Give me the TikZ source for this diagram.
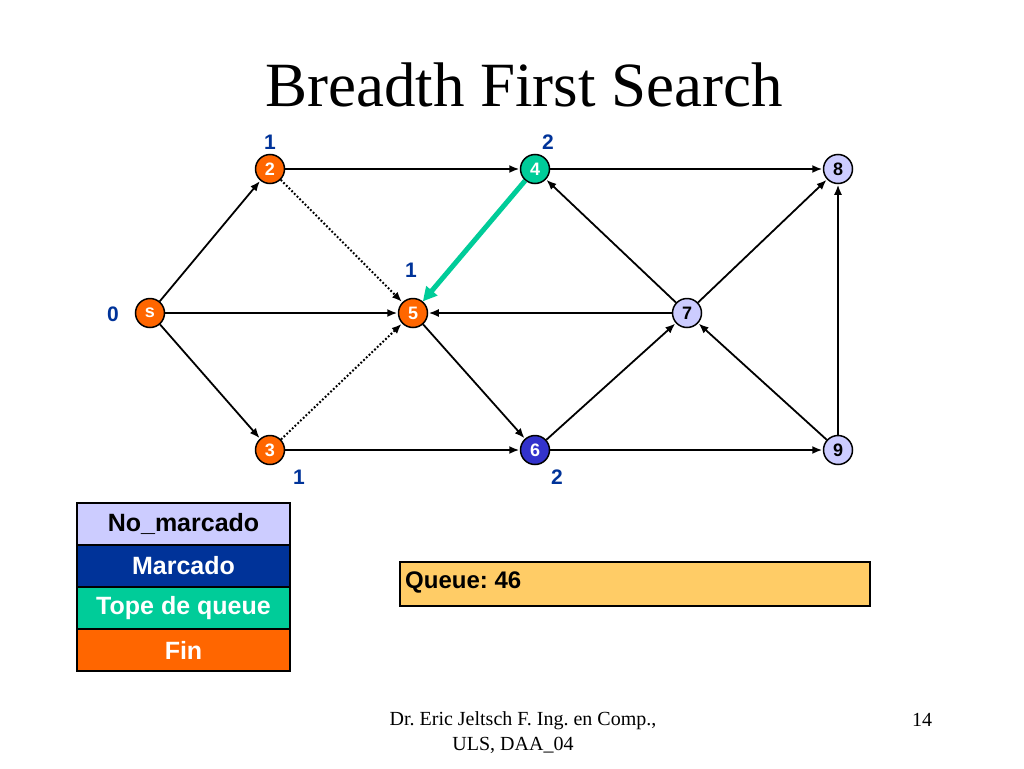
\documentclass[tikz,border=0pt]{standalone}
\usepackage{fontspec}
\setmainfont{Liberation Serif}
\setsansfont{Liberation Sans}
\usetikzlibrary{arrows.meta}
\definecolor{finor}{HTML}{FF6600}
\definecolor{topgr}{HTML}{00CC99}
\definecolor{markbl}{HTML}{3333CC}
\definecolor{legbl}{HTML}{003399}
\definecolor{nomark}{HTML}{CCCCFF}
\definecolor{queuebg}{HTML}{FFCC66}
\definecolor{lblbl}{HTML}{003399}
\tikzset{
  vtx/.style={circle, draw=black, line width=1.5pt, minimum size=29pt, inner sep=0pt,
    font=\sffamily\bfseries\fontsize{18}{18}\selectfont},
  fin/.style={vtx, fill=finor, text=white},
  tope/.style={vtx, fill=topgr, text=white},
  marc/.style={vtx, fill=markbl, text=white},
  nom/.style={vtx, fill=nomark, text=black},
  lbl/.style={text=lblbl, font=\sffamily\bfseries\fontsize{21}{21}\selectfont, inner sep=0pt},
  edge/.style={-{Latex[length=10pt,width=8pt]}, line width=1.8pt, shorten >=0.5pt},
  dedge/.style={edge, dotted, line width=2pt},
  legrow/.style={draw=black, line width=1.5pt, minimum width=213pt, minimum height=42pt,
    inner sep=0pt, font=\sffamily\bfseries\fontsize{25}{25}\selectfont},
}
\begin{document}
\frenchspacing
\begin{tikzpicture}[x=1pt,y=-1pt]
\useasboundingbox (0,0) rectangle (1024,768);
\fill[white] (0,0) rectangle (1024,768);
% title
\node[font=\fontsize{63}{63}\selectfont, inner sep=0pt] (title) at (524,85) {Breadth First Search};
% vertices
\node[fin] (s) at (150,313) {s};
\node[fin] (n2) at (270,169) {2};
\node[tope] (n4) at (535,169) {4};
\node[nom] (n8) at (838,169) {8};
\node[fin] (n5) at (413,313) {5};
\node[nom] (n7) at (687,313) {7};
\node[fin] (n3) at (270,450) {3};
\node[marc] (n6) at (535,450) {6};
\node[nom] (n9) at (838,450) {9};
% distance labels
\node[lbl] (l0) at (113,314) {0};
\node[lbl] (l2) at (270,142) {1};
\node[lbl] (l4) at (548,142) {2};
\node[lbl] (l5) at (411,270) {1};
\node[lbl] (l3) at (299,477) {1};
\node[lbl] (l6) at (557,477) {2};
% edges
\draw[edge] (s) -- (n2);
\draw[edge] (s) -- (n5);
\draw[edge] (s) -- (n3);
\draw[edge] (n2) -- (n4);
\draw[dedge] (n2) -- (n5);
\draw[dedge] (n3) -- (n5);
\draw[edge] (n3) -- (n6);
\draw[edge] (n5) -- (n6);
\draw[edge] (n7) -- (n5);
\draw[edge] (n7) -- (n4);
\draw[edge] (n7) -- (n8);
\draw[edge] (n4) -- (n8);
\draw[edge] (n6) -- (n7);
\draw[edge] (n6) -- (n9);
\draw[edge] (n9) -- (n7);
\draw[edge] (n9) -- (n8);
\draw[-{Triangle[length=14pt,width=14pt]}, line width=5pt, topgr] (n4) -- (n5);
% legend
\node[legrow, fill=nomark, text=black] (g1) at (183.5,524) {No\_marcado};
\node[legrow, fill=legbl, text=white] (g2) at (183.5,566) {Marcado};
\node[legrow, fill=topgr, text=white] (g3) at (183.5,608) {Tope de queue};
\node[legrow, fill=finor, text=white] (g4) at (183.5,650) {Fin};
% queue
\node[draw=black, line width=1.5pt, fill=queuebg, minimum width=470pt, minimum height=44pt,
  inner sep=0pt] (q) at (635,584) {};
\node[anchor=west, inner sep=0pt, font=\sffamily\bfseries\fontsize{24}{24}\selectfont] (qt) at (405,582) {Queue: 46};
% footer
\node[font=\fontsize{20}{20}\selectfont, inner sep=0pt] (f1) at (523,721) {Dr. Eric Jeltsch F. Ing. en Comp.,};
\node[font=\fontsize{20}{20}\selectfont, inner sep=0pt] (f2) at (513,745) {ULS, DAA\_04};
\node[font=\fontsize{20}{20}\selectfont, inner sep=0pt] (pg) at (922,720) {14};
\end{tikzpicture}
\end{document}
